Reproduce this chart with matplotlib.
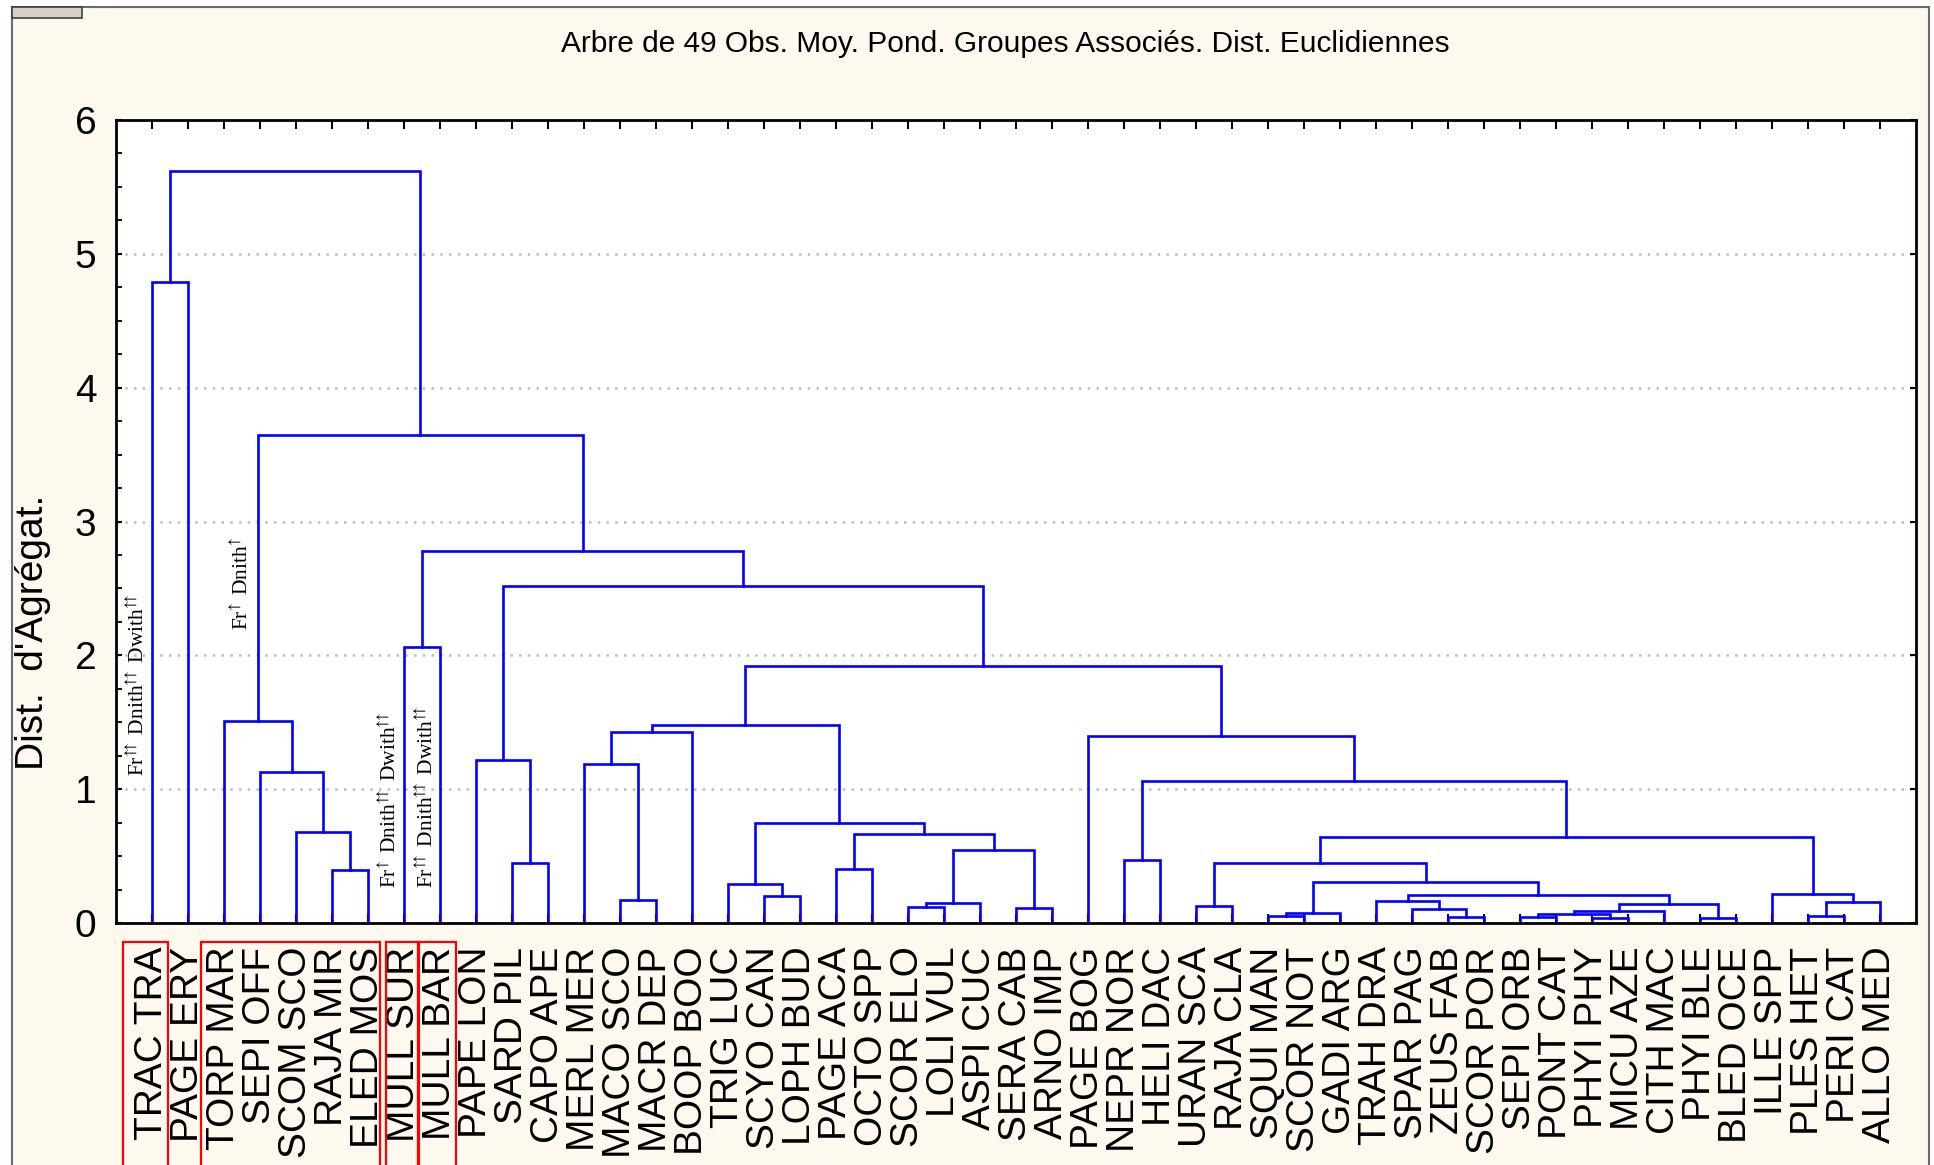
import numpy as np
import matplotlib
matplotlib.use("Agg")
import matplotlib.pyplot as plt
from matplotlib.patches import Rectangle
import matplotlib.transforms as mtransforms

plt.rcParams["mathtext.fontset"] = "stix"

# leaves in dendrogram order
leaf_labels = [
    "TRAC TRA", "PAGE ERY", "TORP MAR", "SEPI OFF", "SCOM SCO", "RAJA MIR",
    "ELED MOS", "MULL SUR", "MULL BAR", "PAPE LON", "SARD PIL", "CAPO APE",
    "MERL MER", "MACO SCO", "MACR DEP", "BOOP BOO", "TRIG LUC", "SCYO CAN",
    "LOPH BUD", "PAGE ACA", "OCTO SPP", "SCOR ELO", "LOLI VUL", "ASPI CUC",
    "SERA CAB", "ARNO IMP", "PAGE BOG", "NEPR NOR", "HELI DAC", "URAN SCA",
    "RAJA CLA", "SQUI MAN", "SCOR NOT", "GADI ARG", "TRAH DRA", "SPAR PAG",
    "ZEUS FAB", "SCOR POR", "SEPI ORB", "PONT CAT", "PHYI PHY", "MICU AZE",
    "CITH MAC", "PHYI BLE", "BLED OCE", "ILLE SPP", "PLES HET", "PERI CAT",
    "ALLO MED",
]

# linkage table: ids < 49 are leaves, merge k creates node 49 + k
merge_left = [5, 4, 3, 2, 0, 7, 10, 9, 13, 12,
              58, 17, 16, 19, 21, 63, 24, 64, 62, 61,
              59, 27, 29, 31, 72, 36, 35, 34, 38, 40,
              77, 79, 43, 80, 76, 73, 71, 46, 86, 45,
              85, 70, 26, 69, 56, 54, 52, 53]
merge_right = [6, 49, 50, 51, 1, 8, 11, 55, 14, 57,
               15, 18, 60, 20, 22, 23, 25, 65, 66, 67,
               68, 28, 30, 32, 33, 37, 74, 75, 39, 41,
               78, 42, 44, 81, 82, 83, 84, 47, 48, 87,
               88, 89, 90, 91, 92, 93, 94, 95]
merge_height = [0.395, 0.68, 1.13, 1.51, 4.79, 2.06, 0.45, 1.22, 0.17, 1.19,
                1.43, 0.20, 0.29, 0.40, 0.12, 0.15, 0.11, 0.545, 0.665, 0.745,
                1.48, 0.47, 0.125, 0.052, 0.075, 0.045, 0.107, 0.164, 0.045, 0.037,
                0.065, 0.087, 0.037, 0.139, 0.206, 0.31, 0.45, 0.052, 0.16, 0.219,
                0.64, 1.06, 1.40, 1.92, 2.52, 2.78, 3.65, 5.62]

# red frames, in leaf units
box_spans = [(0.2, 1.45), (2.36, 7.33), (7.5, 8.38), (8.42, 9.44)]

up1 = r"$\!^{\uparrow}$"
up2 = r"$\!^{\uparrow\!\!\!\uparrow}$"
notes = [
    f"Fr{up2} Dnith{up2} Dwith{up2}",
    f"Fr{up1} Dnith{up1}",
    f"Fr{up1} Dnith{up2} Dwith{up2}",
    f"Fr{up2} Dnith{up2} Dwith{up2}",
]
note_x = [0.61, 3.5, 7.61, 8.64]
note_y = [1.10, 2.19, 0.26, 0.26]

cream = "#fef9ee"
sans = ["Liberation Sans", "DejaVu Sans"]
serif = ["Liberation Serif", "DejaVu Serif"]

fig = plt.figure(figsize=(19.34, 11.65), dpi=100, facecolor="white")

# window panel + small button in the corner
fig.patches.append(Rectangle((12 / 1934, -0.05), 1917 / 1934, 1.05 - 7 / 1165,
                             transform=fig.transFigure, facecolor=cream,
                             edgecolor="#6b6b6b", lw=1.5, zorder=-2))
fig.patches.append(Rectangle((12 / 1934, 1 - 18 / 1165), 70 / 1934, 11 / 1165,
                             transform=fig.transFigure, facecolor="#d4d0c8",
                             edgecolor="#404040", lw=1.2, zorder=-1))

ax = fig.add_axes([116 / 1934, 1 - 923 / 1165, 1800 / 1934, 803 / 1165])
ax.set_facecolor("white")

n = len(leaf_labels)
node_x = list(np.arange(1, n + 1, dtype=float))
node_h = [0.0] * n
for a, b, h in zip(merge_left, merge_right, merge_height):
    xa, xb = node_x[a], node_x[b]
    ax.plot([xa, xa, xb, xb], [node_h[a], h, h, node_h[b]], color="#0000ff",
            lw=1.9, solid_joinstyle="miter", zorder=2)
    node_x.append((xa + xb) / 2)
    node_h.append(h)

ax.set_xlim(0, n + 1)
ax.set_ylim(0, 6)

ax.set_xticks(np.arange(1, n + 1))
ax.set_xticklabels(leaf_labels, rotation=90, fontsize=28, family=sans)
ax.set_yticks(range(0, 7))
ax.set_yticklabels([str(v) for v in range(0, 7)], fontsize=28, family=sans)
ax.set_yticks(np.arange(0, 6.01, 0.25), minor=True)
ax.tick_params(axis="x", direction="in", length=6.5, width=1.5, top=True,
               pad=17, colors="black")
ax.tick_params(axis="y", which="major", direction="in", length=4.5, width=1.5,
               right=True, pad=14)
ax.tick_params(axis="y", which="minor", direction="in", length=4.5, width=1.3)

ax.yaxis.grid(True, color="#bdbdbd", lw=1.8, linestyle=(0, (1, 2.5)))
ax.set_axisbelow(True)
for s in ax.spines.values():
    s.set_linewidth(2)
    s.set_color("black")

for txt, x, y in zip(notes, note_x, note_y):
    ax.text(x, y, txt, rotation=90, ha="center", va="bottom", fontsize=15.5,
            family=serif, color="black", zorder=3)

trans = mtransforms.blended_transform_factory(ax.transData, ax.transAxes)
for x0, x1 in box_spans:
    ax.add_patch(Rectangle((x0, -0.45), x1 - x0, 0.45 - 19 / 803,
                           transform=trans, fill=False, edgecolor="#ff0000",
                           lw=1.6, clip_on=False, zorder=3))

fig.text(0.52, 0.962, "Arbre de 49 Obs. Moy. Pond. Groupes Associés. Dist. Euclidiennes",
         ha="center", va="center", fontsize=21.5, family=sans)
fig.text(0.017, 0.457, "Dist.  d'Agrégat.", rotation=90, ha="center",
         va="center", fontsize=28, family=sans)

fig.savefig("out.png", dpi=100, facecolor=fig.get_facecolor())
